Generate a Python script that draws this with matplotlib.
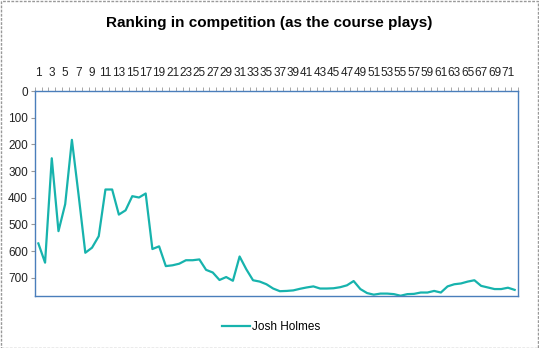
import numpy as np
import matplotlib
matplotlib.use("Agg")
import matplotlib.pyplot as plt
from matplotlib.patches import Rectangle

plt.rcParams["font.family"] = ["Liberation Sans", "DejaVu Sans"]

# ---------------- data ----------------
rounds = list(range(1, 73))
josh_holmes = [
    571, 643, 252, 525, 424, 183, 390, 606, 587, 544,
    369, 369, 463, 447, 394, 399, 384, 592, 582, 656,
    653, 647, 634, 634, 631, 670, 680, 708, 697, 711,
    620, 668, 709, 714, 724, 740, 750, 749, 747, 741,
    736, 732, 740, 740, 739, 735, 728, 712, 742, 757,
    763, 759, 759, 761, 767, 761, 760, 755, 755, 749,
    755, 732, 724, 721, 714, 709, 730, 736, 742, 742,
    737, 745,
]
tick_labels = [str(r) for r in rounds[::2]]

line_col = "#17B3AD"
axis_col = "#4A7EBB"

# ---------------- plot ----------------
fig = plt.figure(figsize=(5.39, 3.48), dpi=100)
ax = fig.add_axes([35/539, 1 - 296/348, (518 - 35)/539, (296 - 91)/348])

ax.plot(rounds, josh_holmes, color=line_col, linewidth=1.6, label="Josh Holmes")

ax.set_xlim(0.5, len(rounds) + 0.5)
ax.set_ylim(768, 0)

ax.xaxis.tick_top()
ax.set_xticks(rounds[::2])
ax.set_xticklabels(tick_labels, fontsize=8.5, color="#222222")
ax.set_xticks(np.arange(0.5, len(rounds) + 1, 1.0), minor=True)
ax.tick_params(axis="x", which="major", length=0, pad=9)
ax.tick_params(axis="x", which="minor", length=3, color="#999999", top=True)

ax.set_yticks(np.arange(0, 701, 100))
ax.tick_params(axis="y", labelsize=8.5, length=3, color="#999999", labelcolor="#222222", pad=2)

for s in ax.spines.values():
    s.set_color(axis_col)
    s.set_linewidth(1.0)

fig.text(0.5, 1 - 23/348, "Ranking in competition (as the course plays)",
         ha="center", va="center", fontsize=11, fontweight="bold")

fig.legend(loc="center", bbox_to_anchor=(271/539, 1 - 327/348), frameon=False,
           fontsize=8.5, handlelength=2.4, handletextpad=0.1)

# chart-area border
fig.patches.append(Rectangle((0.001, 0.001), 0.997, 0.997, transform=fig.transFigure,
                             fill=False, edgecolor="#999999", linestyle=(0, (2, 1)),
                             linewidth=1.0))

fig.savefig("out.png", dpi=100)
